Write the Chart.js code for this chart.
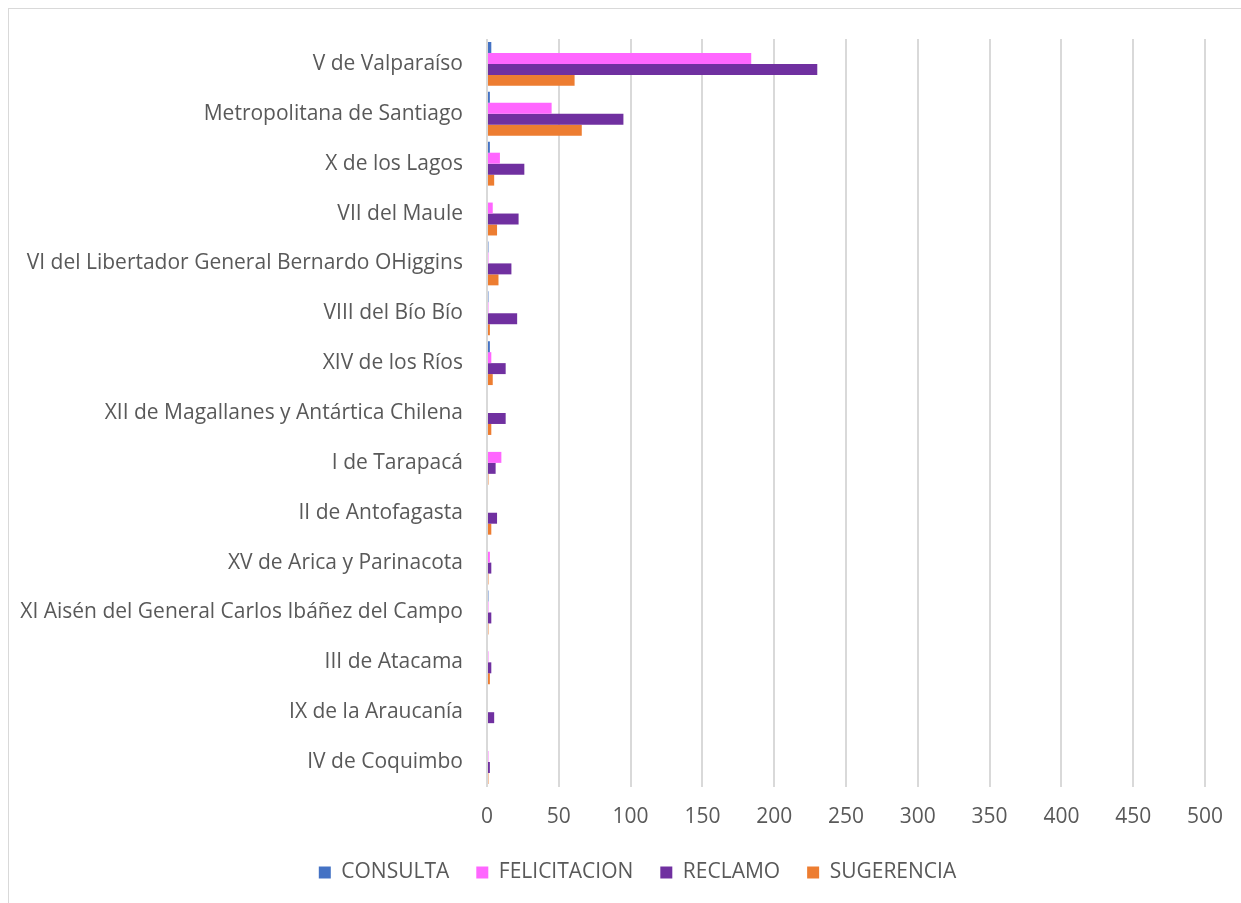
<!DOCTYPE html>
<html>
<head>
<meta charset="utf-8">
<script src="https://cdn.jsdelivr.net/npm/chart.js@4"></script>
<style>
  body { margin: 0; background: #fff; }
  #frame { position: absolute; left: 8px; top: 8px; width: 1300px; height: 1000px; border: 1px solid #d9d9d9; }
  #wrap { position: absolute; left: 0; top: 0; width: 1241px; height: 903px; }
</style>
</head>
<body>
<div id="frame"></div>
<div id="wrap"><canvas id="chart"></canvas></div>
<script>
const regions = [
  'V de Valparaíso',
  'Metropolitana de Santiago',
  'X de los Lagos',
  'VII del Maule',
  'VI del Libertador General Bernardo OHiggins',
  'VIII del Bío Bío',
  'XIV de los Ríos',
  'XII de Magallanes y Antártica Chilena',
  'I de Tarapacá',
  'II de Antofagasta',
  'XV de Arica y Parinacota',
  'XI Aisén del General Carlos Ibáñez del Campo',
  'III de Atacama',
  'IX de la Araucanía',
  'IV de Coquimbo'
];
const consulta     = [3, 2, 2, 0, 1, 1, 2, 0, 0, 0, 0, 1, 0, 0, 0];
const felicitacion = [184, 45, 9, 4, 1, 1, 3, 0, 10, 0, 2, 1, 1, 0, 1];
const reclamo      = [230, 95, 26, 22, 17, 21, 13, 13, 6, 7, 3, 3, 3, 5, 2];
const sugerencia   = [61, 66, 5, 7, 8, 2, 4, 3, 1, 3, 1, 1, 2, 0, 1];
const xTicks = [0, 50, 100, 150, 200, 250, 300, 350, 400, 450, 500];

const font = { family: '"Open Sans", Lato, sans-serif', size: 21 };
const grey = '#595959';

// the legend sits centred under the whole frame, a bit right of canvas centre
const legendShift = {
  id: 'legendShift',
  afterLayout(chart) {
    chart.legend.left += 35;
    chart.legend.right += 35;
  }
};

new Chart(document.getElementById('chart'), {
  type: 'bar',
  data: {
    labels: regions,
    datasets: [
      { label: 'CONSULTA', data: consulta, backgroundColor: '#4472C4' },
      { label: 'FELICITACION', data: felicitacion, backgroundColor: '#FF66FF' },
      { label: 'RECLAMO', data: reclamo, backgroundColor: '#7030A0' },
      { label: 'SUGERENCIA', data: sugerencia, backgroundColor: '#ED7D31' }
    ]
  },
  options: {
    indexAxis: 'y',
    responsive: true,
    maintainAspectRatio: false,
    animation: false,
    datasets: { bar: { categoryPercentage: 0.88, barPercentage: 1 } },
    layout: { padding: { left: 0, right: 36, top: 39, bottom: 10 } },
    plugins: {
      tooltip: { enabled: false },
      legend: {
        position: 'bottom',
        labels: { boxWidth: 12, boxHeight: 12, padding: 27, color: grey, font: font }
      }
    },
    scales: {
      x: {
        min: 0, max: 500,
        afterBuildTicks: s => { s.ticks = xTicks.map(v => ({ value: v })); },
        afterFit: s => { s.height = 48; },
        grid: { color: '#d9d9d9', lineWidth: 2, drawTicks: false },
        border: { display: false },
        ticks: { color: grey, font: font, padding: 17 }
      },
      y: {
        afterFit: s => { s.width = 487; },
        grid: { display: false, drawTicks: false },
        border: { display: false },
        ticks: { color: grey, font: font, padding: 24 }
      }
    }
  },
  plugins: [legendShift]
});
</script>
</body>
</html>
